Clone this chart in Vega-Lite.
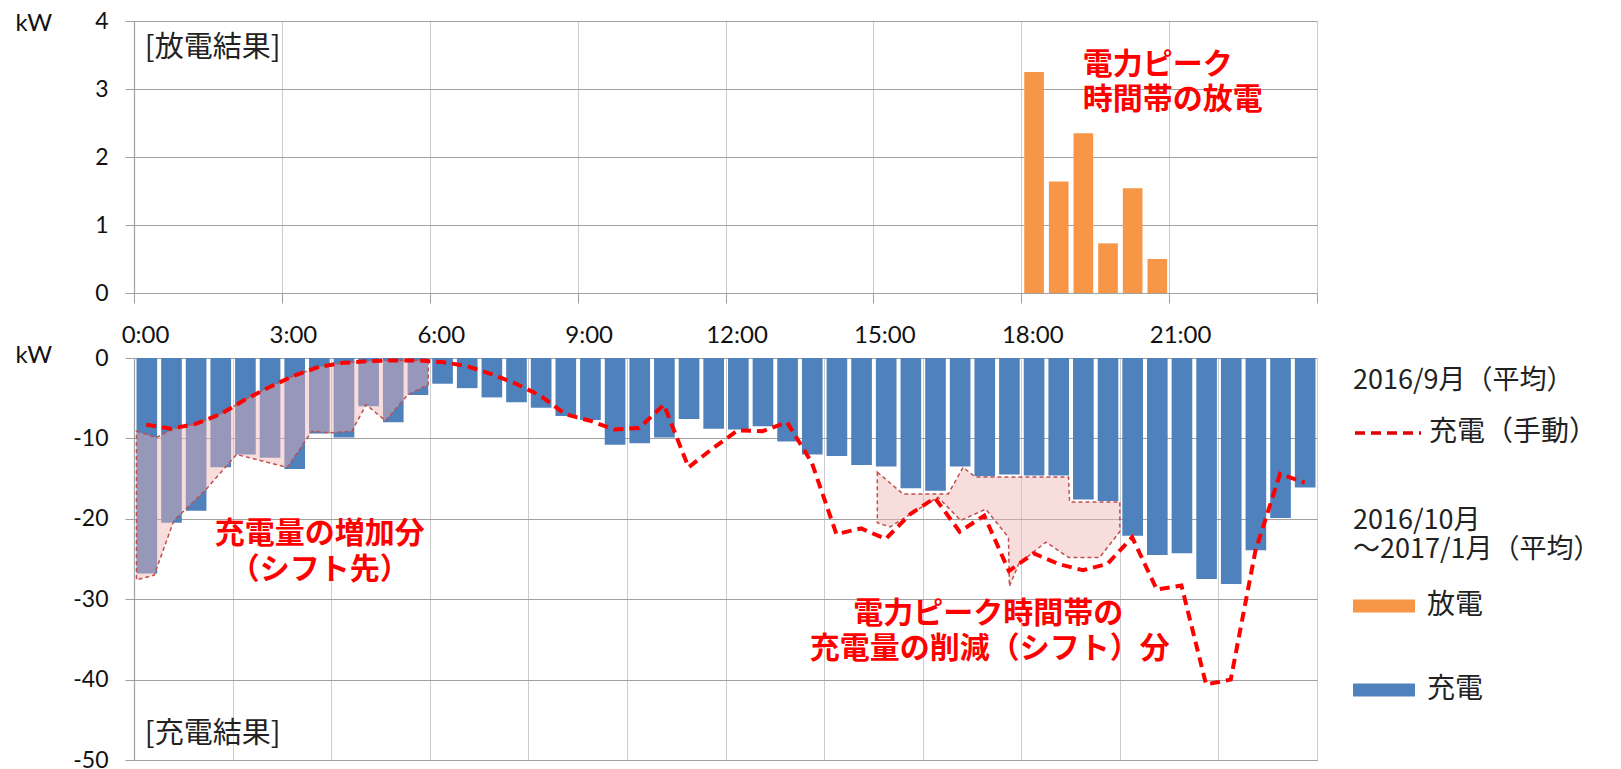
{
  "$schema": "https://vega.github.io/schema/vega-lite/v6.json",
  "background": "white",
  "padding": {"left": 15, "top": 10, "right": 5, "bottom": 5},
  "autosize": {"type": "pad"},
  "spacing": 65,
  "bounds": "flush",
  "config": {
    "font": "Lato",
    "view": {"stroke": null},
    "axis": {
      "gridColor": "#a0a0a0", "gridWidth": 1.2, "domainColor": "#a0a0a0", "domainWidth": 1.2,
      "tickColor": "#a0a0a0", "labelColor": "#111111", "labelFont": "Lato", "labelFontSize": 23,
      "titleFont": "Lato", "titleFontWeight": "normal", "titleColor": "#111111", "titleFontSize": 24
    },
    "legend": {
      "labelFont": "Noto Sans CJK JP", "titleFont": "Noto Sans CJK JP", "labelFontSize": 28, "titleFontSize": 27,
      "titleFontWeight": "normal", "labelColor": "#222222", "titleColor": "#222222", "padding": 0,
      "titleLimit": 600, "labelLimit": 600
    }
  },
  "datasets": {
    "discharge": [
      {"t0": 18.0, "t1": 18.5, "kw": 3.25, "kind": "放電"},
      {"t0": 18.5, "t1": 19.0, "kw": 1.64, "kind": "放電"},
      {"t0": 19.0, "t1": 19.5, "kw": 2.35, "kind": "放電"},
      {"t0": 19.5, "t1": 20.0, "kw": 0.73, "kind": "放電"},
      {"t0": 20.0, "t1": 20.5, "kw": 1.54, "kind": "放電"},
      {"t0": 20.5, "t1": 21.0, "kw": 0.50, "kind": "放電"}
    ],
    "charge": [
      {"t0": 0.0, "t1": 0.5, "kw": -26.8, "kind": "充電"},
      {"t0": 0.5, "t1": 1.0, "kw": -20.5, "kind": "充電"},
      {"t0": 1.0, "t1": 1.5, "kw": -19.0, "kind": "充電"},
      {"t0": 1.5, "t1": 2.0, "kw": -13.6, "kind": "充電"},
      {"t0": 2.0, "t1": 2.5, "kw": -12.0, "kind": "充電"},
      {"t0": 2.5, "t1": 3.0, "kw": -12.4, "kind": "充電"},
      {"t0": 3.0, "t1": 3.5, "kw": -13.8, "kind": "充電"},
      {"t0": 3.5, "t1": 4.0, "kw": -9.4, "kind": "充電"},
      {"t0": 4.0, "t1": 4.5, "kw": -9.9, "kind": "充電"},
      {"t0": 4.5, "t1": 5.0, "kw": -6.0, "kind": "充電"},
      {"t0": 5.0, "t1": 5.5, "kw": -8.0, "kind": "充電"},
      {"t0": 5.5, "t1": 6.0, "kw": -4.6, "kind": "充電"},
      {"t0": 6.0, "t1": 6.5, "kw": -3.2, "kind": "充電"},
      {"t0": 6.5, "t1": 7.0, "kw": -3.75, "kind": "充電"},
      {"t0": 7.0, "t1": 7.5, "kw": -4.9, "kind": "充電"},
      {"t0": 7.5, "t1": 8.0, "kw": -5.5, "kind": "充電"},
      {"t0": 8.0, "t1": 8.5, "kw": -6.2, "kind": "充電"},
      {"t0": 8.5, "t1": 9.0, "kw": -7.2, "kind": "充電"},
      {"t0": 9.0, "t1": 9.5, "kw": -7.7, "kind": "充電"},
      {"t0": 9.5, "t1": 10.0, "kw": -10.8, "kind": "充電"},
      {"t0": 10.0, "t1": 10.5, "kw": -10.6, "kind": "充電"},
      {"t0": 10.5, "t1": 11.0, "kw": -9.9, "kind": "充電"},
      {"t0": 11.0, "t1": 11.5, "kw": -7.6, "kind": "充電"},
      {"t0": 11.5, "t1": 12.0, "kw": -8.8, "kind": "充電"},
      {"t0": 12.0, "t1": 12.5, "kw": -8.9, "kind": "充電"},
      {"t0": 12.5, "t1": 13.0, "kw": -8.5, "kind": "充電"},
      {"t0": 13.0, "t1": 13.5, "kw": -10.4, "kind": "充電"},
      {"t0": 13.5, "t1": 14.0, "kw": -12.0, "kind": "充電"},
      {"t0": 14.0, "t1": 14.5, "kw": -12.2, "kind": "充電"},
      {"t0": 14.5, "t1": 15.0, "kw": -13.3, "kind": "充電"},
      {"t0": 15.0, "t1": 15.5, "kw": -13.5, "kind": "充電"},
      {"t0": 15.5, "t1": 16.0, "kw": -16.2, "kind": "充電"},
      {"t0": 16.0, "t1": 16.5, "kw": -16.5, "kind": "充電"},
      {"t0": 16.5, "t1": 17.0, "kw": -13.5, "kind": "充電"},
      {"t0": 17.0, "t1": 17.5, "kw": -14.7, "kind": "充電"},
      {"t0": 17.5, "t1": 18.0, "kw": -14.5, "kind": "充電"},
      {"t0": 18.0, "t1": 18.5, "kw": -14.6, "kind": "充電"},
      {"t0": 18.5, "t1": 19.0, "kw": -14.6, "kind": "充電"},
      {"t0": 19.0, "t1": 19.5, "kw": -17.6, "kind": "充電"},
      {"t0": 19.5, "t1": 20.0, "kw": -17.8, "kind": "充電"},
      {"t0": 20.0, "t1": 20.5, "kw": -22.1, "kind": "充電"},
      {"t0": 20.5, "t1": 21.0, "kw": -24.5, "kind": "充電"},
      {"t0": 21.0, "t1": 21.5, "kw": -24.3, "kind": "充電"},
      {"t0": 21.5, "t1": 22.0, "kw": -27.5, "kind": "充電"},
      {"t0": 22.0, "t1": 22.5, "kw": -28.1, "kind": "充電"},
      {"t0": 22.5, "t1": 23.0, "kw": -23.9, "kind": "充電"},
      {"t0": 23.0, "t1": 23.5, "kw": -19.9, "kind": "充電"},
      {"t0": 23.5, "t1": 24.0, "kw": -16.1, "kind": "充電"}
    ],
    "sept": [
      {"tm": 0.25, "kw": -8.3, "series": "充電（手動）"},
      {"tm": 0.75, "kw": -8.8, "series": "充電（手動）"},
      {"tm": 1.25, "kw": -8.2, "series": "充電（手動）"},
      {"tm": 1.75, "kw": -7.0, "series": "充電（手動）"},
      {"tm": 2.25, "kw": -5.2, "series": "充電（手動）"},
      {"tm": 2.75, "kw": -3.6, "series": "充電（手動）"},
      {"tm": 3.25, "kw": -2.2, "series": "充電（手動）"},
      {"tm": 3.75, "kw": -1.1, "series": "充電（手動）"},
      {"tm": 4.25, "kw": -0.6, "series": "充電（手動）"},
      {"tm": 4.75, "kw": -0.4, "series": "充電（手動）"},
      {"tm": 5.25, "kw": -0.3, "series": "充電（手動）"},
      {"tm": 5.75, "kw": -0.3, "series": "充電（手動）"},
      {"tm": 6.25, "kw": -0.5, "series": "充電（手動）"},
      {"tm": 6.75, "kw": -1.0, "series": "充電（手動）"},
      {"tm": 7.25, "kw": -2.0, "series": "充電（手動）"},
      {"tm": 7.75, "kw": -3.2, "series": "充電（手動）"},
      {"tm": 8.25, "kw": -4.7, "series": "充電（手動）"},
      {"tm": 8.75, "kw": -7.0, "series": "充電（手動）"},
      {"tm": 9.25, "kw": -7.8, "series": "充電（手動）"},
      {"tm": 9.75, "kw": -8.9, "series": "充電（手動）"},
      {"tm": 10.25, "kw": -8.7, "series": "充電（手動）"},
      {"tm": 10.75, "kw": -5.8, "series": "充電（手動）"},
      {"tm": 11.25, "kw": -13.6, "series": "充電（手動）"},
      {"tm": 11.75, "kw": -11.2, "series": "充電（手動）"},
      {"tm": 12.25, "kw": -9.0, "series": "充電（手動）"},
      {"tm": 12.75, "kw": -9.1, "series": "充電（手動）"},
      {"tm": 13.25, "kw": -8.0, "series": "充電（手動）"},
      {"tm": 13.75, "kw": -13.0, "series": "充電（手動）"},
      {"tm": 14.25, "kw": -21.9, "series": "充電（手動）"},
      {"tm": 14.75, "kw": -21.2, "series": "充電（手動）"},
      {"tm": 15.25, "kw": -22.5, "series": "充電（手動）"},
      {"tm": 15.75, "kw": -19.4, "series": "充電（手動）"},
      {"tm": 16.25, "kw": -17.4, "series": "充電（手動）"},
      {"tm": 16.75, "kw": -21.6, "series": "充電（手動）"},
      {"tm": 17.25, "kw": -19.6, "series": "充電（手動）"},
      {"tm": 17.75, "kw": -26.5, "series": "充電（手動）"},
      {"tm": 18.25, "kw": -24.3, "series": "充電（手動）"},
      {"tm": 18.75, "kw": -25.6, "series": "充電（手動）"},
      {"tm": 19.25, "kw": -26.4, "series": "充電（手動）"},
      {"tm": 19.75, "kw": -25.6, "series": "充電（手動）"},
      {"tm": 20.25, "kw": -22.3, "series": "充電（手動）"},
      {"tm": 20.75, "kw": -28.8, "series": "充電（手動）"},
      {"tm": 21.25, "kw": -28.3, "series": "充電（手動）"},
      {"tm": 21.75, "kw": -40.6, "series": "充電（手動）"},
      {"tm": 22.25, "kw": -40.0, "series": "充電（手動）"},
      {"tm": 22.75, "kw": -24.0, "series": "充電（手動）"},
      {"tm": 23.25, "kw": -14.4, "series": "充電（手動）"},
      {"tm": 23.75, "kw": -15.5, "series": "充電（手動）"}
    ],
    "poly": [
      {"shape": "A", "ord": 1, "t": 0.05, "kw": -9.1},
      {"shape": "A", "ord": 2, "t": 0.45, "kw": -9.9},
      {"shape": "A", "ord": 3, "t": 0.8, "kw": -8.8},
      {"shape": "A", "ord": 4, "t": 1.25, "kw": -8.2},
      {"shape": "A", "ord": 5, "t": 1.75, "kw": -7.0},
      {"shape": "A", "ord": 6, "t": 2.25, "kw": -5.2},
      {"shape": "A", "ord": 7, "t": 2.75, "kw": -3.6},
      {"shape": "A", "ord": 8, "t": 3.25, "kw": -2.2},
      {"shape": "A", "ord": 9, "t": 3.75, "kw": -1.1},
      {"shape": "A", "ord": 10, "t": 4.25, "kw": -0.6},
      {"shape": "A", "ord": 11, "t": 4.75, "kw": -0.4},
      {"shape": "A", "ord": 12, "t": 5.25, "kw": -0.3},
      {"shape": "A", "ord": 13, "t": 5.75, "kw": -0.3},
      {"shape": "A", "ord": 14, "t": 5.97, "kw": -0.4},
      {"shape": "A", "ord": 15, "t": 5.97, "kw": -3.3},
      {"shape": "A", "ord": 16, "t": 5.55, "kw": -4.6},
      {"shape": "A", "ord": 17, "t": 5.1, "kw": -7.8},
      {"shape": "A", "ord": 18, "t": 4.71, "kw": -5.8},
      {"shape": "A", "ord": 19, "t": 4.42, "kw": -9.1},
      {"shape": "A", "ord": 20, "t": 3.97, "kw": -9.3},
      {"shape": "A", "ord": 21, "t": 3.61, "kw": -9.1},
      {"shape": "A", "ord": 22, "t": 3.11, "kw": -13.6},
      {"shape": "A", "ord": 23, "t": 2.08, "kw": -12.0},
      {"shape": "A", "ord": 24, "t": 1.44, "kw": -16.5},
      {"shape": "A", "ord": 25, "t": 0.81, "kw": -20.2},
      {"shape": "A", "ord": 26, "t": 0.41, "kw": -27.0},
      {"shape": "A", "ord": 27, "t": 0.05, "kw": -27.6},
      {"shape": "B", "ord": 1, "t": 15.08, "kw": -14.2},
      {"shape": "B", "ord": 2, "t": 15.6, "kw": -16.9},
      {"shape": "B", "ord": 3, "t": 16.52, "kw": -16.9},
      {"shape": "B", "ord": 4, "t": 16.82, "kw": -13.6},
      {"shape": "B", "ord": 5, "t": 17.07, "kw": -14.8},
      {"shape": "B", "ord": 6, "t": 18.96, "kw": -14.8},
      {"shape": "B", "ord": 7, "t": 18.98, "kw": -17.9},
      {"shape": "B", "ord": 8, "t": 20.0, "kw": -17.9},
      {"shape": "B", "ord": 9, "t": 20.0, "kw": -21.6},
      {"shape": "B", "ord": 10, "t": 19.59, "kw": -24.8},
      {"shape": "B", "ord": 11, "t": 18.96, "kw": -24.8},
      {"shape": "B", "ord": 12, "t": 18.5, "kw": -22.9},
      {"shape": "B", "ord": 13, "t": 17.95, "kw": -25.6},
      {"shape": "B", "ord": 14, "t": 17.76, "kw": -28.4},
      {"shape": "B", "ord": 15, "t": 17.74, "kw": -22.3},
      {"shape": "B", "ord": 16, "t": 17.28, "kw": -18.8},
      {"shape": "B", "ord": 17, "t": 16.77, "kw": -20.2},
      {"shape": "B", "ord": 18, "t": 16.31, "kw": -17.3},
      {"shape": "B", "ord": 19, "t": 15.34, "kw": -21.0},
      {"shape": "B", "ord": 20, "t": 15.08, "kw": -20.5}
    ],
    "topNotes": [
      {"t": 0.22, "kw": 3.6, "label": "[放電結果]"}
    ],
    "topRed": [
      {"t": 19.25, "kw": 3.35, "label": "電力ピーク"},
      {"t": 19.25, "kw": 2.84, "label": "時間帯の放電"}
    ],
    "bottomNotes": [
      {"t": 0.22, "kw": -46.8, "label": "[充電結果]"}
    ],
    "bottomRed": [
      {"t": 3.77, "kw": -21.9, "label": "充電量の増加分"},
      {"t": 3.77, "kw": -26.4, "label": "（シフト先）"},
      {"t": 17.33, "kw": -31.8, "label": "電力ピーク時間帯の"},
      {"t": 17.36, "kw": -36.2, "label": "充電量の削減（シフト）分"}
    ]
  },
  "resolve": {
    "scale": {"color": "independent", "strokeDash": "independent"},
    "legend": {"color": "independent", "strokeDash": "independent"}
  },
  "vconcat": [
    {
      "width": 1183,
      "height": 272,
      "layer": [
        {
          "data": {"name": "discharge"},
          "mark": {"type": "bar", "binSpacing": 5},
          "encoding": {
            "x": {
              "field": "t0", "type": "quantitative", "bin": {"binned": true, "step": 0.5},
              "scale": {"domain": [0, 24], "nice": false, "zero": false},
              "axis": {
                "title": null, "values": [0, 3, 6, 9, 12, 15, 18, 21, 24],
                "labelExpr": "datum.value < 24 ? datum.value + ':00' : ''",
                "grid": true, "gridColor": "#cccccc", "gridWidth": 1,
                "ticks": true, "tickSize": 10, "labelPadding": 20, "labelOffset": 11,
                "labelFontSize": 24, "labelFlush": false, "labelOverlap": false
              }
            },
            "x2": {"field": "t1"},
            "y": {
              "field": "kw", "type": "quantitative",
              "scale": {"domain": [0, 4], "nice": false},
              "axis": {
                "values": [0, 1, 2, 3, 4], "labelExpr": "'' + datum.value", "grid": true, "tickSize": 9, "labelPadding": 17,
                "title": "kW", "titleAngle": 0, "titleX": -119, "titleY": 2,
                "titleAlign": "left", "titleBaseline": "middle"
              }
            },
            "color": {
              "field": "kind", "type": "nominal",
              "scale": {"domain": ["放電", "充電"], "range": ["#f79646", "#4f81bd"]},
              "legend": null
            }
          }
        },
        {
          "data": {"name": "topNotes"},
          "mark": {"type": "text", "align": "left", "baseline": "middle", "font": "Noto Sans CJK JP", "fontSize": 29, "color": "#222222"},
          "encoding": {
            "x": {"field": "t", "type": "quantitative"},
            "y": {"field": "kw", "type": "quantitative"},
            "text": {"field": "label"}
          }
        },
        {
          "data": {"name": "topRed"},
          "mark": {"type": "text", "align": "left", "baseline": "middle", "font": "Noto Sans CJK JP", "fontSize": 30, "fontWeight": "bold", "color": "#ff0000"},
          "encoding": {
            "x": {"field": "t", "type": "quantitative"},
            "y": {"field": "kw", "type": "quantitative"},
            "text": {"field": "label"}
          }
        }
      ]
    },
    {
      "width": 1183,
      "height": 402,
      "layer": [
        {
          "data": {"name": "charge"},
          "mark": {"type": "bar", "binSpacing": 4},
          "encoding": {
            "x": {
              "field": "t0", "type": "quantitative", "bin": {"binned": true, "step": 0.5},
              "scale": {"domain": [0, 24], "nice": false, "zero": false},
              "axis": {
                "title": null, "values": [0, 2, 4, 6, 8, 10, 12, 14, 16, 18, 20, 22, 24],
                "labels": false, "ticks": false, "grid": true, "gridColor": "#cccccc", "gridWidth": 1
              }
            },
            "x2": {"field": "t1"},
            "y": {
              "field": "kw", "type": "quantitative",
              "scale": {"domain": [-50, 0], "nice": false},
              "axis": {
                "values": [-50, -40, -30, -20, -10, 0], "labelExpr": "'' + datum.value",
                "grid": true, "tickSize": 9, "labelPadding": 17,
                "title": "kW", "titleAngle": 0, "titleX": -119, "titleY": -3,
                "titleAlign": "left", "titleBaseline": "middle"
              }
            },
            "color": {
              "field": "kind", "type": "nominal",
              "scale": {"domain": ["放電", "充電"], "range": ["#f79646", "#4f81bd"]},
              "legend": {
                "title": ["2016/10月", "～2017/1月（平均）"], "orient": "none",
                "legendX": 1219, "legendY": 150, "titleLineHeight": 29,
                "symbolType": "M-1,-0.21H1V0.21H-1Z", "symbolSize": 3844, "symbolStrokeWidth": 0,
                "symbolOpacity": 1, "rowPadding": 39, "titlePadding": 11, "labelOffset": 12
              }
            }
          }
        },
        {
          "data": {"name": "poly"},
          "mark": {
            "type": "line", "interpolate": "linear-closed", "fill": "#f0b4b4", "fillOpacity": 0.45,
            "stroke": "#c0504d", "strokeWidth": 1.5, "strokeDash": [4, 3]
          },
          "encoding": {
            "x": {"field": "t", "type": "quantitative"},
            "y": {"field": "kw", "type": "quantitative"},
            "order": {"field": "ord", "type": "quantitative"},
            "detail": {"field": "shape"}
          }
        },
        {
          "data": {"name": "sept"},
          "mark": {"type": "line", "color": "#ff0000", "strokeWidth": 4},
          "encoding": {
            "x": {"field": "tm", "type": "quantitative"},
            "y": {"field": "kw", "type": "quantitative"},
            "strokeDash": {
              "field": "series", "type": "nominal",
              "scale": {"domain": ["充電（手動）"], "range": [[10, 6]]},
              "legend": {
                "title": "2016/9月（平均）", "orient": "none", "legendX": 1219, "legendY": 10,
                "symbolType": "stroke", "symbolSize": 4356, "symbolStrokeWidth": 3.5,
                "symbolStrokeColor": "#e00000", "titlePadding": 3, "labelOffset": 6
              }
            }
          }
        },
        {
          "data": {"name": "bottomNotes"},
          "mark": {"type": "text", "align": "left", "baseline": "middle", "font": "Noto Sans CJK JP", "fontSize": 29, "color": "#222222"},
          "encoding": {
            "x": {"field": "t", "type": "quantitative"},
            "y": {"field": "kw", "type": "quantitative"},
            "text": {"field": "label"}
          }
        },
        {
          "data": {"name": "bottomRed"},
          "mark": {"type": "text", "align": "center", "baseline": "middle", "font": "Noto Sans CJK JP", "fontSize": 30, "fontWeight": "bold", "color": "#ff0000"},
          "encoding": {
            "x": {"field": "t", "type": "quantitative"},
            "y": {"field": "kw", "type": "quantitative"},
            "text": {"field": "label"}
          }
        }
      ]
    }
  ]
}
